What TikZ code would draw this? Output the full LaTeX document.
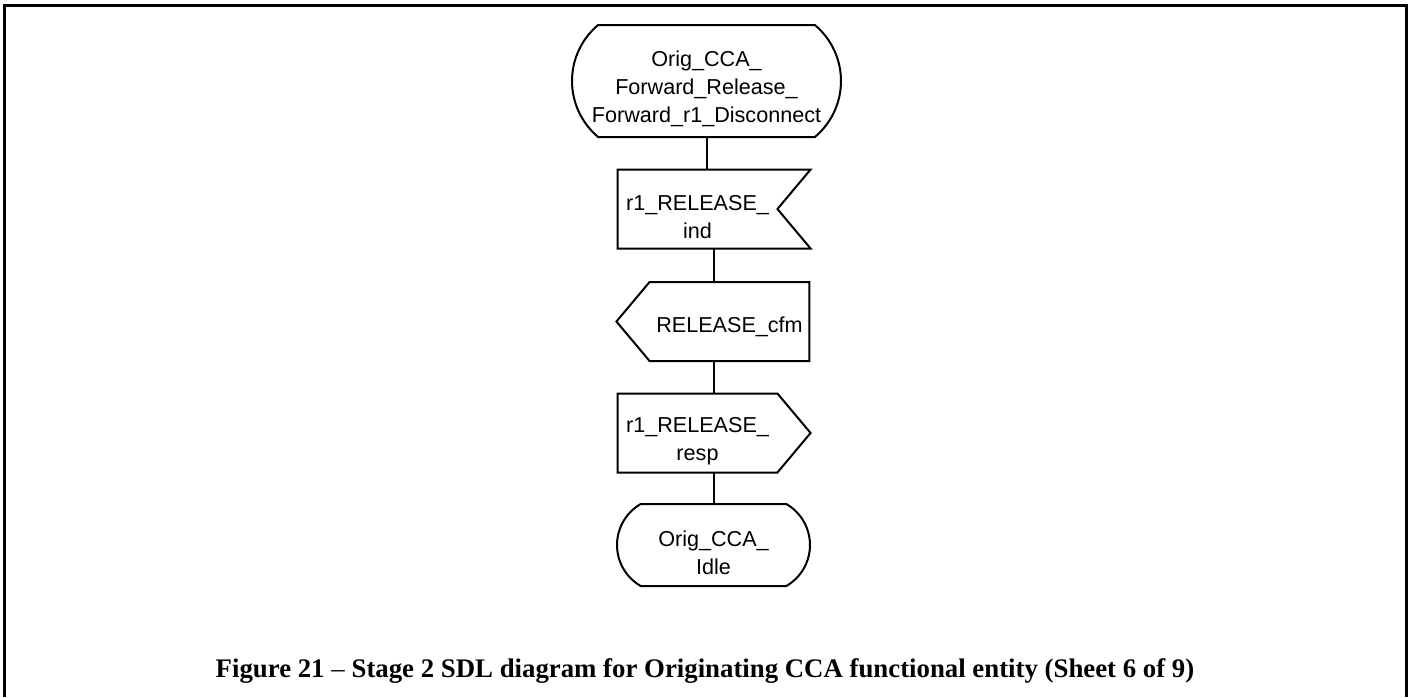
\documentclass[tikz,border=0pt]{standalone}
\usepackage{fontspec}
\setmainfont{Liberation Serif}
\setsansfont{Liberation Sans}
\usetikzlibrary{shapes.misc,shapes.symbols}
\newcommand*\sdlwidth {96.5pt}
\newcommand*\sdlheight{39.5pt}
\newcommand*\sdlstrut {\rule{0pt}{15.5pt}}
\tikzset{
    sdl/.style       = {draw, line width=1pt, align=center,
                       font=\sffamily\fontsize{10.8}{14}\selectfont,
                       minimum width=\sdlwidth, minimum height=\sdlheight,
                       inner sep=0pt, outer sep=0pt},
    statebox/.style  = {sdl, rounded rectangle, rounded rectangle arc length=120},
    inbox/.style     = {sdl, signal, signal to=nowhere, signal from=east, signal pointer angle=100},
    outbox/.style    = {sdl, signal, signal to=east, signal pointer angle=100},
    backbox/.style   = {sdl, signal, signal to=west, signal pointer angle=100},
    flow/.style      = {line width=1pt},
    frame/.style     = {line width=1.5pt},
  }

\begin{document}
\begin{tikzpicture}[x=0.5pt,y=-0.5pt]
      % page area and frame (bottom edge runs off the sheet)
      \useasboundingbox (0,0) rectangle (1414,697);
      \draw[frame] (4,697) -- (4,5) -- (1406,5) -- (1406,697);

      % SDL chart
      \coordinate (axis) at (713.5,0);
      \node[statebox, rounded rectangle arc length=100, minimum width=134.5pt, minimum height=56pt] (start) at (706.5,81)
        {\sdlstrut Orig\_CCA\_\\Forward\_Release\_\\Forward\_r1\_Disconnect};
      \node[inbox, xshift=-8pt] (ind) at (713.5,209) {\sdlstrut r1\_RELEASE\_\\ind};
      \node[backbox, xshift=8pt] (cfm) at (713.5,321.5) {\rule{0pt}{13pt}RELEASE\_cfm};
      \node[outbox, xshift=-8pt] (resp) at (713.5,433) {\sdlstrut r1\_RELEASE\_\\resp};
      \node[statebox, minimum height=41pt] (idle) at (713.5,545) {\sdlstrut Orig\_CCA\_\\Idle};

      % connectors
      \draw[flow] (start.south) -- (start.south |- ind.north);
      \foreach \a/\b in {ind/cfm, cfm/resp, resp/idle} {
        \draw[flow] (\a.south -| axis) -- (\b.north -| axis);
      }

      % caption
      \node[anchor=base, font=\bfseries\fontsize{13.4}{16}\selectfont] (caption) at (705,677)
        {Figure 21 \textmd{--} Stage 2 SDL diagram for Originating CCA functional entity (Sheet 6 of 9)};
    \end{tikzpicture}
\end{document}
